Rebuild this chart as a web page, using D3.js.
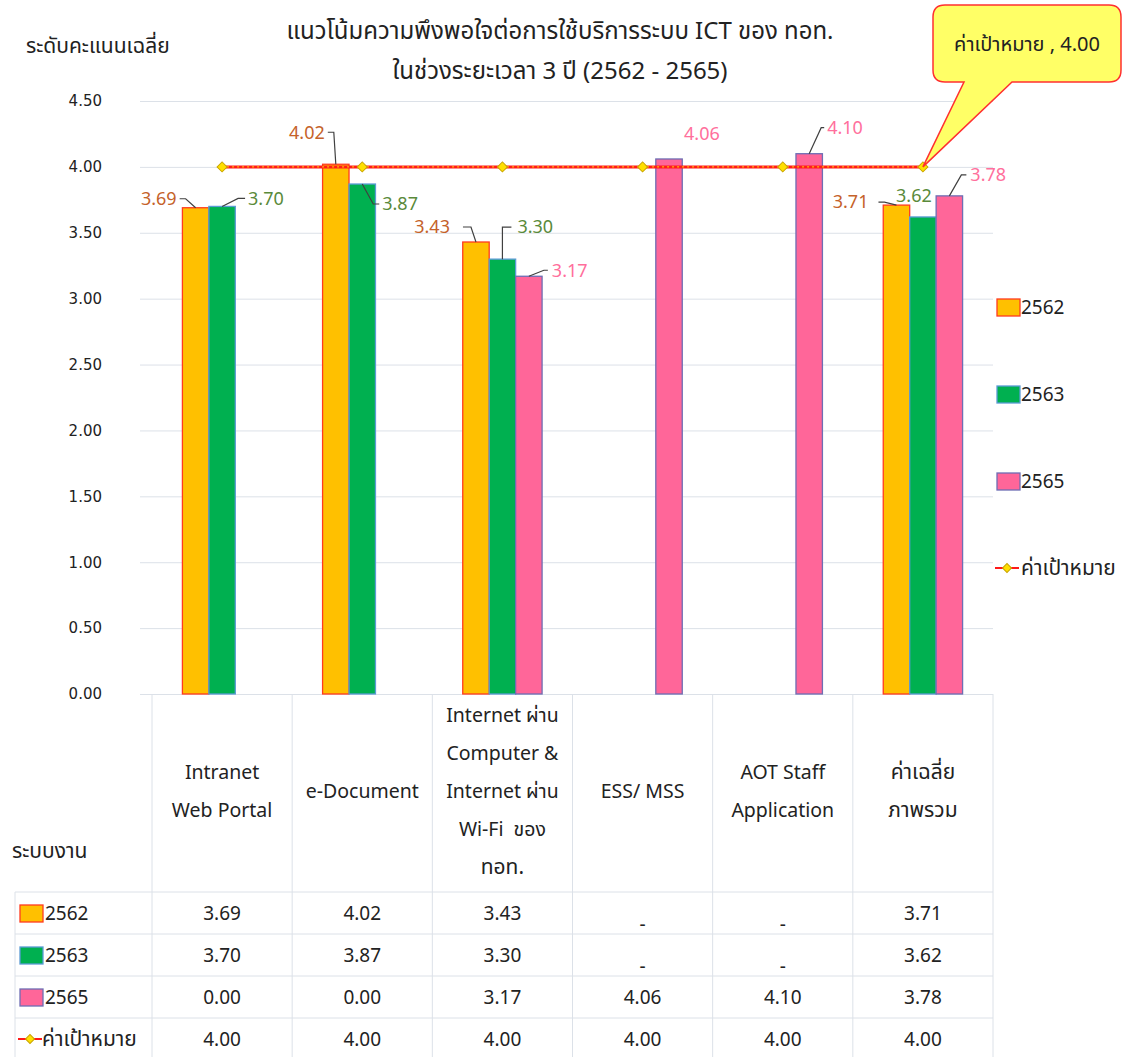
<!DOCTYPE html>
<html>
<head>
<meta charset="utf-8">
<script src="https://cdn.jsdelivr.net/npm/d3@7"></script>
<style>
  body { margin: 0; background: #fff; }
  svg { display: block; font-family: Tahoma, "Leelawadee UI", "Noto Sans Thai", "Noto Sans", sans-serif; }
</style>
</head>
<body>
<div id="chart"></div>
<script>
// Data
const categories = ["Intranet Web Portal", "e-Document", "Internet ผ่าน Computer & Internet ผ่าน Wi-Fi ของ ทอท.", "ESS/ MSS", "AOT Staff Application", "ค่าเฉลี่ยภาพรวม"];
const categoryLines = [
  ["Intranet", "Web Portal"],
  ["e-Document"],
  ["Internet ผ่าน", "Computer &", "Internet ผ่าน", "Wi-Fi  ของ", "ทอท."],
  ["ESS/ MSS"],
  ["AOT Staff", "Application"],
  ["ค่าเฉลี่ย", "ภาพรวม"]
];
const seriesNames = ["2562", "2563", "2565"];
const values2562 = [3.69, 4.02, 3.43, null, null, 3.71];
const values2563 = [3.70, 3.87, 3.30, null, null, 3.62];
const values2565 = [0.00, 0.00, 3.17, 4.06, 4.10, 3.78];
const targetName = "ค่าเป้าหมาย";
const targetValues = [4.00, 4.00, 4.00, 4.00, 4.00, 4.00];
const yTicks = [0, 0.5, 1, 1.5, 2, 2.5, 3, 3.5, 4, 4.5];

// Styles
const seriesStyle = [
  { fill: "#FFC000", stroke: "#FF3B1F", label: "#C5622A" },
  { fill: "#00B050", stroke: "#5B9BD5", label: "#5A8A3A" },
  { fill: "#FF6699", stroke: "#6E6EB4", label: "#FF6F9C" }
];

// label placement relative to bar top: [dx, dy, anchor, elbowX, endX] (elbow null = no leader)
const labelLayout = [
  [[-19, -9, "end", -10, -16], [-11, -32, "end", -2, -8], [-26, -15, "end", -5, -13], null, null, [-28, -3, "end", -12, -18]],
  [[26, -8, "start", 16, 23], [20, 20, "start", 11, 17], [15, -32, "start", 0, 9], null, null, [-9, -21, "middle", null, null]],
  [null, null, [23, -6, "start", 15, 19], [15, -25, "start", null, null], [18, -26, "start", 12, 15], [21, -21, "start", 12, 17]]
];

const seriesValues = [values2562, values2563, values2565];

const W = 1126, H = 1057;
const plotLeft = 152, plotRight = 993, plotTop = 101, plotBottom = 694;
const gridColor = "#DCE1E8";
const textColor = "#222";
const fsNum = 19, fsThai = 21;

const svg = d3.select("#chart").append("svg")
  .attr("width", W).attr("height", H);

const x = d3.scaleBand().domain(d3.range(categories.length)).range([plotLeft, plotRight]).padding(0);
const xInner = d3.scaleBand().domain(d3.range(seriesNames.length)).range([0, x.bandwidth()]).paddingInner(0).paddingOuter(1.15);
const y = d3.scaleLinear().domain([0, 4.5]).range([plotBottom, plotTop]);

// Title
svg.append("text")
  .attr("x", 560).attr("y", 31)
  .attr("dy", "0.35em")
  .attr("text-anchor", "middle")
  .attr("font-size", 24).attr("fill", textColor)
  .text("แนวโน้มความพึงพอใจต่อการใช้บริการระบบ ICT ของ ทอท.");
svg.append("text")
  .attr("x", 560).attr("y", 71)
  .attr("dy", "0.35em")
  .attr("text-anchor", "middle")
  .attr("font-size", 24).attr("fill", textColor)
  .text("ในช่วงระยะเวลา 3 ปี (2562 - 2565)");

svg.append("text")
  .attr("x", 26).attr("y", 46)
  .attr("dy", "0.35em")
  .attr("font-size", fsThai).attr("fill", textColor)
  .text("ระดับคะแนนเฉลี่ย");

// Y axis with gridlines
const yAxis = svg.append("g")
  .attr("transform", `translate(${plotRight},0)`)
  .call(d3.axisLeft(y).tickValues(yTicks).tickFormat(d3.format(".2f")).tickSize(plotRight - 140).tickPadding(38));
yAxis.select(".domain").remove();
yAxis.selectAll(".tick line").attr("stroke", gridColor);
yAxis.selectAll(".tick text").attr("font-size", 15).attr("fill", textColor)
  .attr("font-family", "Tahoma, 'DejaVu Sans', sans-serif");

// Bars
const barData = [];
seriesValues.forEach((vals, s) => {
  vals.forEach((v, c) => {
    if (v !== null && v > 0) barData.push({ s, c, v });
  });
});

svg.append("g").selectAll("rect")
  .data(barData)
  .join("rect")
  .attr("x", d => x(d.c) + xInner(d.s))
  .attr("y", d => y(d.v))
  .attr("width", xInner.bandwidth())
  .attr("height", d => y(0) - y(d.v))
  .attr("fill", d => seriesStyle[d.s].fill)
  .attr("stroke", d => seriesStyle[d.s].stroke)
  .attr("stroke-width", 1.3);

// Target line
const cx = c => x(c) + x.bandwidth() / 2;
const targetLine = d3.line().x((d, i) => cx(i)).y(d => y(d));
svg.append("path").attr("d", targetLine(targetValues))
  .attr("fill", "none").attr("stroke", "#FF1A1A").attr("stroke-width", 3);
svg.append("path").attr("d", targetLine(targetValues))
  .attr("fill", "none").attr("stroke", "#FFD700").attr("stroke-width", 1).attr("stroke-dasharray", "2,3");

// diamond marker = rotated square
const diamond = d3.symbol().type(d3.symbolSquare).size(50);
svg.append("g").selectAll("path")
  .data(targetValues)
  .join("path")
  .attr("d", diamond)
  .attr("transform", (d, i) => `translate(${cx(i)},${y(d)}) rotate(45)`)
  .attr("fill", "#FFE000").attr("stroke", "#C9A400").attr("stroke-width", 1);

// Data labels
const labels = svg.append("g").attr("font-size", 18);
barData.forEach(d => {
  const lay = labelLayout[d.s][d.c];
  if (!lay) return;
  const bx = x(d.c) + xInner(d.s) + xInner.bandwidth() / 2;
  const by = y(d.v);
  const [dx, dy, anchor, ex, ux] = lay;
  if (ex !== null) {
    labels.append("path")
      .attr("d", `M${bx},${by}L${bx + ex},${by + dy}L${bx + ux},${by + dy}`)
      .attr("fill", "none").attr("stroke", "#404040").attr("stroke-width", 1.2);
  }
  labels.append("text")
    .attr("x", bx + dx).attr("y", by + dy)
    .attr("dy", "0.35em")
    .attr("text-anchor", anchor)
    .attr("fill", seriesStyle[d.s].label)
    .text(d3.format(".2f")(d.v));
});

// Callout
const lastX = cx(targetValues.length - 1), lastY = y(targetValues[targetValues.length - 1]);
const bx0 = 933, bx1 = 1121, by0 = 5, by1 = 82, r = 12;
const cp = d3.path();
cp.moveTo(bx0 + r, by0);
cp.lineTo(bx1 - r, by0);
cp.quadraticCurveTo(bx1, by0, bx1, by0 + r);
cp.lineTo(bx1, by1 - r);
cp.quadraticCurveTo(bx1, by1, bx1 - r, by1);
cp.lineTo(1012, by1);
cp.lineTo(lastX, lastY);
cp.lineTo(964, by1);
cp.lineTo(bx0 + r, by1);
cp.quadraticCurveTo(bx0, by1, bx0, by1 - r);
cp.lineTo(bx0, by0 + r);
cp.quadraticCurveTo(bx0, by0, bx0 + r, by0);
cp.closePath();
svg.append("path").attr("d", cp.toString())
  .attr("fill", "#FFFF66").attr("stroke", "#FF3030").attr("stroke-width", 1.5);
svg.append("text")
  .attr("x", (bx0 + bx1) / 2).attr("y", 44)
  .attr("dy", "0.35em").attr("text-anchor", "middle")
  .attr("font-size", 20).attr("fill", textColor)
  .text(`${targetName} , ${d3.format(".2f")(targetValues[0])}`);

// Legend (right)
function drawKey(g, s, kx, ky) {
  if (s < 3) {
    g.append("rect").attr("x", kx).attr("y", ky - 8).attr("width", 23).attr("height", 17)
      .attr("fill", seriesStyle[s].fill).attr("stroke", seriesStyle[s].stroke).attr("stroke-width", 1.3);
  } else {
    g.append("line").attr("x1", kx - 2).attr("x2", kx + 22).attr("y1", ky).attr("y2", ky)
      .attr("stroke", "#FF1A1A").attr("stroke-width", 2);
    g.append("path").attr("d", d3.symbol().type(d3.symbolSquare).size(40))
      .attr("transform", `translate(${kx + 10},${ky}) rotate(45)`)
      .attr("fill", "#FFE000").attr("stroke", "#C9A400");
  }
}
const legendNames = seriesNames.concat([targetName]);
const legend = svg.append("g").attr("fill", textColor);
legendNames.forEach((name, i) => {
  const ly = 307 + i * 87;
  drawKey(legend, i, 997, ly);
  legend.append("text").attr("x", 1021).attr("y", ly).attr("dy", "0.35em")
    .attr("font-size", i < 3 ? fsNum : fsThai).text(name);
});

// Data table
const table = svg.append("g");
const rowTops = [892, 934, 976, 1018];
const rowH = 42;
const tableLeft = 15;
// vertical lines
x.domain().concat([categories.length]).forEach(i => {
  const vx = i < categories.length ? x(i) : plotRight;
  table.append("line").attr("x1", vx).attr("x2", vx).attr("y1", plotBottom).attr("y2", H)
    .attr("stroke", gridColor);
});
table.append("line").attr("x1", tableLeft).attr("x2", tableLeft).attr("y1", rowTops[0]).attr("y2", H)
  .attr("stroke", gridColor);
rowTops.forEach(ry => {
  table.append("line").attr("x1", tableLeft).attr("x2", plotRight).attr("y1", ry).attr("y2", ry)
    .attr("stroke", gridColor);
});

// header
table.append("text").attr("x", 12).attr("y", 851).attr("dy", "0.35em")
  .attr("font-size", fsThai).attr("fill", textColor).text("ระบบงาน");
categoryLines.forEach((lines, c) => {
  const startY = 791 - (lines.length - 1) * 38 / 2;
  lines.forEach((ln, k) => {
    table.append("text").attr("x", cx(c)).attr("y", startY + k * 38).attr("dy", "0.35em")
      .attr("text-anchor", "middle").attr("font-size", /[A-Za-z]/.test(ln) ? 19.5 : fsThai)
      .attr("fill", textColor)
      .attr("xml:space", "preserve")
      .text(ln);
  });
});

// rows
const rowValues = seriesValues.concat([targetValues]);
rowValues.forEach((vals, rIdx) => {
  const ry = rowTops[rIdx] + rowH / 2;
  drawKey(table, rIdx, 20, ry);
  table.append("text").attr("x", rIdx < 3 ? 45 : 42).attr("y", ry).attr("dy", "0.35em")
    .attr("font-size", rIdx < 3 ? fsNum : fsThai).attr("fill", textColor).text(legendNames[rIdx]);
  vals.forEach((v, c) => {
    table.append("text").attr("x", cx(c)).attr("y", v === null ? ry + 11 : ry)
      .attr("dy", "0.35em").attr("text-anchor", "middle")
      .attr("font-size", fsNum).attr("fill", textColor)
      .text(v === null ? "-" : d3.format(".2f")(v));
  });
});
</script>
</body>
</html>
